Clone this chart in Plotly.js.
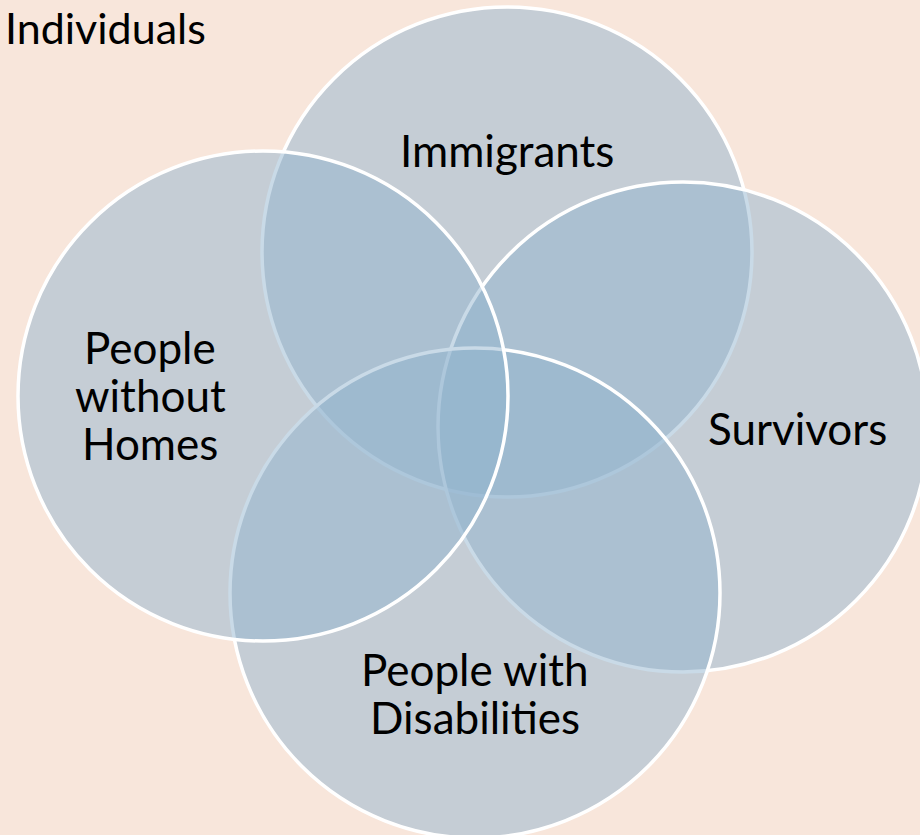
<!DOCTYPE html>
<html>
<head>
<meta charset="utf-8">
<script src="https://cdn.plot.ly/plotly-3.0.1.min.js"></script>
<style>html,body{margin:0;padding:0;background:#F8E6DB;}#chart{width:920px;height:835px;}</style>
</head>
<body>
<div id="chart"></div>
<script>
// Venn groups (drawing order: top, right, bottom, left)
var groups = ["Immigrants", "Survivors", "People with<br>Disabilities", "People<br>without<br>Homes"];
var centerX = [507, 683, 475, 263];
var centerY = [252, 427, 593, 396];
var radius = 245;
var labelX = [507, 797, 475, 150];
var labelY = [150, 428, 693, 395];
var title = "Individuals";

var FONT = "Lato, 'Noto Sans', sans-serif";
var lineGap = 48;

var shapes = groups.map(function (g, i) {
  return {
    type: "circle", xref: "x", yref: "y",
    x0: centerX[i] - radius, x1: centerX[i] + radius,
    y0: centerY[i] - radius, y1: centerY[i] + radius,
    fillcolor: "rgba(144,179,207,0.49)",
    line: {color: "#FFFFFF", width: 3.5},
    layer: "above"
  };
});

var annotations = [];
groups.forEach(function (g, i) {
  var lines = g.split("<br>");
  var n = lines.length;
  lines.forEach(function (ln, k) {
    annotations.push({
      x: labelX[i], y: labelY[i] + (k - (n - 1) / 2) * lineGap,
      xref: "x", yref: "y", text: ln, showarrow: false,
      xanchor: "center", yanchor: "middle",
      font: {family: FONT, size: 44, color: "#000000"}
    });
  });
});
annotations.push({
  x: 3, y: 27, xref: "x", yref: "y", text: title, showarrow: false,
  xanchor: "left", yanchor: "middle",
  font: {family: FONT, size: 43, color: "#000000"}
});

var layout = {
  width: 920, height: 835,
  margin: {l: 0, r: 0, t: 0, b: 0},
  paper_bgcolor: "#F8E6DB", plot_bgcolor: "#F8E6DB",
  xaxis: {range: [0, 920], visible: false, fixedrange: true},
  yaxis: {range: [835, 0], visible: false, fixedrange: true},
  shapes: shapes,
  annotations: annotations,
  showlegend: false
};

Plotly.newPlot("chart", [{x: [], y: [], type: "scatter", mode: "markers", hoverinfo: "skip"}], layout, {staticPlot: true, displayModeBar: false});
</script>
</body>
</html>
